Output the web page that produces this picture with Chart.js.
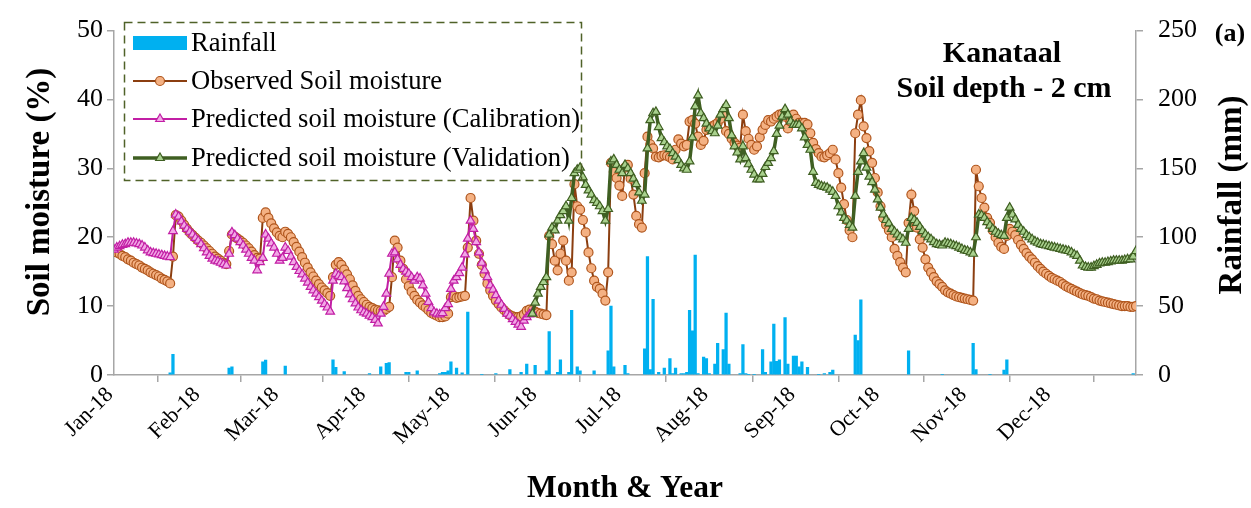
<!DOCTYPE html>
<html>
<head>
<meta charset="utf-8">
<title>Kanataal soil moisture, 2 cm depth</title>
<script src="https://cdn.jsdelivr.net/npm/chart.js@4.4.0/dist/chart.umd.min.js"></script>
<style>
  html, body { margin: 0; padding: 0; background: #fff; }
  #wrap { width: 1251px; height: 508px; }
</style>
</head>
<body>
<div id="wrap"><canvas id="moistureChart" width="1251" height="508"></canvas></div>
<script>
// x axis runs in day-of-year (0 = 1 Jan 2018)
const monthStartDays = [0, 31, 59, 90, 120, 151, 181, 212, 243, 273, 304, 334];
const monthLabels = ['Jan-18', 'Feb-18', 'Mar-18', 'Apr-18', 'May-18', 'Jun-18',
                     'Jul-18', 'Aug-18', 'Sep-18', 'Oct-18', 'Nov-18', 'Dec-18'];

// observed soil moisture (%), one reading per day, Jan..Dec
const observed = [
  18.1, 17.8, 17.6, 17.3, 17.1, 16.8, 16.6, 16.3, 16.1, 15.9, 15.6, 15.4, 15.2, 14.9, 14.7, 14.5, 14.3, 14.0, 13.8, 13.6, 13.3, 17.2, 23.2, 23.0, 22.4, 21.8, 21.2, 20.7, 20.3, 19.9, 19.5,
  19.2, 18.8, 18.4, 18.0, 17.6, 17.2, 16.9, 16.6, 16.3, 16.1, 18.0, 20.4, 20.1, 19.8, 19.5, 19.2, 18.8, 18.4, 17.9, 17.4, 17.0, 16.9, 22.8, 23.6, 22.8, 22.0, 21.3, 20.7,
  20.2, 20.0, 20.8, 20.5, 20.0, 19.3, 18.6, 17.9, 17.1, 16.3, 15.6, 14.9, 14.3, 13.7, 13.2, 12.7, 12.3, 11.9, 11.5, 14.2, 16.0, 16.4, 16.0, 15.3, 14.6, 13.9, 13.0, 12.2, 11.5, 11.0, 10.6,
  10.2, 9.9, 9.7, 9.5, 9.4, 9.3, 9.3, 9.6, 9.9, 14.2, 19.5, 18.5, 16.6, 15.4, 13.9, 12.9, 12.1, 11.5, 10.9, 10.5, 10.1, 9.8, 9.4, 9.0, 8.8, 8.6, 8.4, 8.4, 8.5, 8.9,
  11.3, 11.5, 11.2, 11.3, 11.4, 11.5, 18.5, 25.7, 22.4, 19.5, 17.6, 16.0, 14.7, 13.3, 12.3, 11.5, 10.8, 10.3, 9.8, 9.4, 9.0, 8.7, 8.5, 8.4, 8.4, 8.5, 8.8, 9.3, 9.5, 9.4, 9.2,
  9.0, 8.9, 8.8, 8.7, 20.2, 19.0, 16.6, 15.2, 17.6, 19.5, 16.6, 13.7, 14.9, 27.7, 24.5, 24.0, 22.5, 20.7, 17.8, 15.5, 13.7, 12.8, 12.5, 11.8, 10.8, 14.9, 30.8, 29.5, 28.6, 27.5,
  26.0, 30.1, 30.5, 28.5, 26.2, 23.1, 21.9, 21.4, 29.3, 34.6, 33.5, 32.9, 31.7, 31.6, 31.8, 31.9, 31.8, 31.6, 31.3, 32.7, 34.2, 33.6, 33.2, 33.4, 36.8, 37.0, 36.5, 34.6, 33.4, 34.0, 35.6,
  35.8, 36.1, 36.3, 36.6, 37.2, 38.0, 35.4, 35.0, 34.3, 33.7, 33.3, 33.0, 37.8, 35.4, 34.3, 33.4, 32.7, 33.2, 34.5, 35.6, 36.3, 37.0, 36.8, 37.2, 37.5, 37.8, 37.9, 37.5, 35.8, 36.8, 37.8,
  37.2, 36.6, 36.6, 36.6, 36.4, 35.1, 33.7, 32.8, 32.2, 31.7, 31.6, 31.9, 32.2, 32.7, 31.3, 29.3, 27.2, 24.8, 22.5, 21.0, 20.0, 35.1, 37.8, 39.9, 36.1, 34.4, 32.5, 30.8, 28.6, 26.5,
  24.5, 22.8, 21.8, 21.0, 20.0, 18.3, 17.3, 16.4, 15.6, 14.9, 22.1, 26.2, 23.8, 21.4, 19.7, 18.5, 16.8, 15.6, 14.9, 14.2, 13.6, 13.2, 12.8, 12.3, 12.0, 11.8, 11.6, 11.4, 11.3, 11.2, 11.1,
  11.0, 10.9, 10.8, 29.8, 27.4, 25.7, 24.3, 22.8, 22.1, 21.0, 20.0, 19.2, 18.6, 18.3, 20.2, 21.2, 20.8, 20.3, 19.6, 18.9, 18.3, 17.7, 17.2, 16.8, 16.3, 15.8, 15.4, 15.0, 14.7, 14.4,
  14.1, 13.9, 13.7, 13.5, 13.2, 12.9, 12.7, 12.5, 12.3, 12.1, 11.9, 11.7, 11.6, 11.5, 11.3, 11.1, 11.0, 10.8, 10.7, 10.6, 10.5, 10.4, 10.3, 10.2, 10.1, 10.0, 10.0, 10.0, 9.9, 9.9, 10.0
];

// model output, calibration period (from day 0)
const calibrationStart = 0;
const calibration = [
  18.2, 18.5, 18.7, 18.9, 19.0, 19.2, 19.2, 19.2, 19.1, 19.0, 18.8, 18.5, 18.1, 17.8, 17.7, 17.6, 17.5, 17.4, 17.3, 17.2, 17.1, 20.9, 23.3, 23.0, 22.3, 21.7, 21.2, 20.8, 20.4, 19.9, 19.5,
  19.0, 18.4, 17.8, 17.3, 16.9, 16.6, 16.5, 16.3, 16.1, 15.9, 17.6, 20.7, 20.3, 19.8, 19.3, 18.8, 18.2, 17.6, 17.0, 16.6, 15.2, 16.4, 17.0, 20.4, 19.8, 19.1, 18.5, 17.6,
  16.6, 17.0, 18.5, 18.0, 17.2, 16.4, 15.7, 15.1, 14.6, 14.0, 13.4, 12.8, 12.3, 11.8, 11.3, 10.8, 10.3, 9.8, 9.2, 13.7, 14.7, 14.4, 14.2, 13.6, 12.6, 11.7, 11.0, 10.4, 9.8, 9.4, 9.1,
  8.9, 8.6, 8.4, 8.0, 7.5, 8.9, 9.9, 11.8, 14.7, 17.6, 17.8, 16.8, 16.0, 15.4, 15.0, 14.7, 14.2, 13.7, 14.2, 14.0, 13.0, 11.8, 10.6, 9.7, 9.1, 8.9, 8.8, 9.0, 9.7, 10.3,
  12.5, 13.7, 14.2, 14.8, 15.6, 17.5, 19.8, 22.4, 21.2, 19.3, 17.8, 16.3, 15.2, 14.2, 13.0, 12.4, 11.6, 10.8, 10.2, 9.6, 8.9, 8.6, 8.1, 7.7, 7.3, 7.0, 7.9, 8.4, 8.8, 9.1
];

// model output, validation period (from day 149)
const validationStart = 149;
const validation = [
  8.9, 10.5, 11.8, 12.8, 13.5, 14.2, 20.4, 21.4, 21.0, 22.4, 23.2, 23.8, 24.5, 22.4, 25.7, 29.3, 29.8, 30.1, 28.7, 27.6, 26.8, 26.2, 25.4, 25.0, 24.5, 23.8, 22.4, 24.1, 31.0, 31.3, 30.5, 29.8,
  29.3, 30.5, 30.0, 29.3, 28.5, 27.7, 26.5, 25.3, 26.2, 32.9, 37.0, 38.0, 38.2, 36.0, 34.4, 33.8, 33.2, 32.8, 32.2, 31.7, 31.2, 30.5, 30.0, 29.8, 31.0, 34.5, 39.0, 40.6, 38.0, 37.3, 36.5,
  35.8, 35.4, 35.1, 36.2, 37.8, 38.6, 39.2, 37.3, 34.8, 33.2, 32.3, 31.3, 33.2, 31.5, 30.6, 29.8, 29.1, 28.4, 28.4, 29.2, 30.2, 30.8, 31.5, 32.5, 35.0, 36.2, 37.5, 38.6, 37.8, 36.8, 36.3,
  36.3, 36.3, 35.8, 34.5, 33.4, 32.7, 29.5, 27.9, 27.6, 27.4, 27.3, 27.2, 26.9, 26.6, 26.0, 24.5, 23.6, 22.8, 22.4, 21.8, 21.4, 26.0, 29.5, 31.0, 32.2, 30.1, 28.8, 28.0, 26.9, 25.5,
  24.3, 23.3, 22.5, 22.0, 21.2, 20.8, 20.4, 20.0, 19.7, 19.2, 21.2, 22.8, 22.5, 22.1, 21.5, 20.9, 20.4, 20.0, 19.7, 19.3, 19.0, 18.9, 18.8, 19.2, 19.1, 19.0, 18.8, 18.7, 18.5, 18.3, 18.1,
  18.0, 17.8, 17.6, 20.0, 23.3, 23.2, 22.8, 22.2, 21.7, 21.2, 20.8, 20.5, 20.3, 20.2, 22.8, 24.3, 23.3, 22.6, 21.8, 21.2, 20.8, 20.3, 20.0, 19.7, 19.4, 19.2, 19.0, 18.9, 18.8, 18.7,
  18.6, 18.5, 18.4, 18.3, 18.2, 18.1, 18.0, 17.8, 17.5, 17.3, 16.6, 15.9, 15.7, 15.6, 15.6, 15.8, 16.0, 16.2, 16.3, 16.3, 16.4, 16.5, 16.6, 16.6, 16.6, 16.6, 16.7, 16.8, 16.8, 17.2, 18.0
];

// daily rainfall (mm) on the days it rained
const rainDays = [20, 21, 41, 42, 53, 54, 61, 78, 79, 82, 91, 95, 97, 98, 104, 105, 108,
  116, 117, 118, 119, 120, 122, 124, 126, 131, 136, 141, 145, 147, 150, 154, 155, 158, 159,
  162, 163, 165, 166, 171, 176, 177, 178, 182, 183, 189, 190, 191, 192, 194, 196, 198, 199,
  200, 202, 203, 204, 205, 206, 207, 208, 210, 211, 212, 214, 215, 217, 218, 219, 223, 224,
  225, 226, 228, 231, 232, 234, 235, 236, 237, 239, 240, 242, 243, 244, 245, 247, 251, 253,
  255, 256, 264, 265, 266, 283, 295, 306, 307, 312, 317, 318, 363];
const rainMm = [1.5, 15, 5, 6, 9.6, 10.8, 6.5, 11, 5.5, 2.4, 1, 6, 8.5, 9, 2, 2, 3,
  1, 2, 2, 3, 9.6, 5, 1.5, 45.7, 0.5, 1, 4, 2, 8, 7, 3, 31.5, 2, 11,
  2, 47, 6, 3, 3, 17.5, 50, 6, 7, 1, 19, 86, 4, 55, 2, 5, 12, 1,
  5, 1, 1, 2, 47, 32, 87, 1, 13, 12, 1, 8, 23, 18.5, 45, 8, 1, 22,
  1, 0.5, 0.5, 18.5, 2, 9.6, 37, 10, 11, 41.6, 8, 13.7, 13.7, 6, 9.6, 5.5, 0.5, 1,
  2, 3.5, 29, 25, 54.6, 17.5, 0.5, 23, 4, 0.5, 3.5, 11, 1];

const serif = '"Liberation Serif", "Times New Roman", serif';
const axisGray = '#a6a6a6';
Chart.defaults.font.family = serif;
Chart.defaults.color = '#000';

const toPoints = (values, start) => values.map((v, i) => ({ x: start + i, y: v }));

function drawTriangle(ctx, x, y, r) {
  ctx.beginPath();
  ctx.moveTo(x, y - r);
  ctx.lineTo(x + 0.866 * r, y + 0.5 * r);
  ctx.lineTo(x - 0.866 * r, y + 0.5 * r);
  ctx.closePath();
  ctx.fill();
  ctx.stroke();
}

function drawVerticalTitle(ctx, text, x, y) {
  ctx.save();
  ctx.translate(x, y);
  ctx.rotate(-Math.PI / 2);
  ctx.font = 'bold 33px ' + serif;
  ctx.textAlign = 'center';
  ctx.textBaseline = 'middle';
  ctx.fillStyle = '#000';
  ctx.fillText(text, 0, 0);
  ctx.restore();
}

// boxed legend, station caption and both vertical axis titles
const annotations = {
  id: 'annotations',
  afterDraw(chart) {
    const ctx = chart.ctx;
    ctx.save();
    ctx.strokeStyle = '#4f6228';
    ctx.lineWidth = 1.5;
    ctx.setLineDash([8, 5]);
    ctx.strokeRect(124.5, 22.5, 457, 158);
    ctx.setLineDash([]);

    const rows = [43, 81, 119, 158];
    chart.data.datasets.forEach((ds, i) => {
      const y = rows[i];
      if (ds.type === 'bar') {
        ctx.fillStyle = ds.backgroundColor;
        ctx.fillRect(133, y - 7, 54, 14);
      } else {
        ctx.strokeStyle = ds.borderColor;
        ctx.lineWidth = ds.borderWidth;
        ctx.beginPath();
        ctx.moveTo(133, y);
        ctx.lineTo(187, y);
        ctx.stroke();
        ctx.fillStyle = ds.pointBackgroundColor;
        ctx.strokeStyle = ds.pointBorderColor;
        ctx.lineWidth = ds.pointBorderWidth;
        if (ds.pointStyle === 'circle') {
          ctx.beginPath();
          ctx.arc(160, y, ds.pointRadius, 0, Math.PI * 2);
          ctx.fill();
          ctx.stroke();
        } else {
          drawTriangle(ctx, 160, y, ds.pointRadius);
        }
      }
      ctx.fillStyle = '#000';
      ctx.font = '26.6px ' + serif;
      ctx.textAlign = 'left';
      ctx.textBaseline = 'middle';
      ctx.fillText(ds.label, 191, y + 1);
    });

    ctx.fillStyle = '#000';
    ctx.textAlign = 'center';
    ctx.textBaseline = 'alphabetic';
    ctx.font = 'bold 30px ' + serif;
    ctx.fillText('Kanataal', 1002, 62);
    ctx.fillText('Soil depth - 2 cm', 1004, 97);
    ctx.font = 'bold 26px ' + serif;
    ctx.fillText('(a)', 1230, 41);
    ctx.restore();

    drawVerticalTitle(ctx, 'Soil moisture (%)', 40, 192);
    drawVerticalTitle(ctx, 'Rainfall (mm)', 1232, 195);
  }
};

const ctx = document.getElementById('moistureChart').getContext('2d');
const moistureChart = new Chart(ctx, {
  type: 'line',
  data: {
    datasets: [{
      type: 'bar',
      label: 'Rainfall',
      data: rainDays.map((d, i) => ({ x: d, y: rainMm[i] })),
      yAxisID: 'y1',
      backgroundColor: '#00b0f0',
      barThickness: 2.6,
      order: 4
    }, {
      label: 'Observed Soil moisture',
      data: toPoints(observed, 0),
      borderColor: '#8b3e10',
      borderWidth: 2,
      pointStyle: 'circle',
      pointRadius: 4.5,
      pointBorderWidth: 1.2,
      pointBackgroundColor: '#f4b183',
      pointBorderColor: '#b0561d',
      tension: 0,
      order: 3
    }, {
      label: 'Predicted soil moisture (Calibration)',
      data: toPoints(calibration, calibrationStart),
      borderColor: '#c21fa5',
      borderWidth: 2,
      pointStyle: 'triangle',
      pointRadius: 5,
      pointBorderWidth: 1.2,
      pointBackgroundColor: '#f2a7e6',
      pointBorderColor: '#c21fa5',
      tension: 0,
      order: 2
    }, {
      label: 'Predicted soil moisture (Validation)',
      data: toPoints(validation, validationStart),
      borderColor: '#3f5f22',
      borderWidth: 3.5,
      pointStyle: 'triangle',
      pointRadius: 5,
      pointBorderWidth: 1.2,
      pointBackgroundColor: '#a9d18e',
      pointBorderColor: '#3f5f22',
      tension: 0,
      order: 1
    }]
  },
  options: {
    responsive: false,
    animation: false,
    layout: { padding: { top: 28, left: 0, right: 0, bottom: 0 } },
    plugins: { legend: { display: false }, tooltip: { enabled: false } },
    scales: {
      x: {
        type: 'linear',
        min: 0,
        max: 364,
        offset: false,
        afterBuildTicks: scale => { scale.ticks = monthStartDays.map(v => ({ value: v })); },
        afterFit: scale => { scale.height = 133; },
        grid: { drawOnChartArea: false, drawTicks: true, tickLength: 7, color: axisGray, lineWidth: 1.5 },
        border: { color: axisGray, width: 1.5 },
        ticks: {
          autoSkip: false,
          minRotation: 45,
          maxRotation: 45,
          padding: 0,
          labelOffset: -4,
          font: { size: 22 },
          callback: v => monthLabels[monthStartDays.indexOf(v)]
        },
        title: {
          display: true,
          text: 'Month & Year',
          font: { size: 31.5, weight: 'bold' },
          padding: { top: 0, bottom: 0 }
        }
      },
      y: {
        position: 'left',
        min: 0,
        max: 50,
        afterFit: scale => { scale.width = 114; },
        grid: { drawOnChartArea: false, tickLength: 7, color: axisGray, lineWidth: 1.5 },
        border: { color: axisGray, width: 1.5 },
        ticks: { stepSize: 10, padding: 4, font: { size: 26 } }
      },
      y1: {
        position: 'right',
        min: 0,
        max: 250,
        afterFit: scale => { scale.width = 115; },
        grid: { drawOnChartArea: false, tickLength: 7, color: axisGray, lineWidth: 1.5 },
        border: { color: axisGray, width: 1.5 },
        ticks: { stepSize: 50, padding: 15, font: { size: 26 } }
      }
    }
  },
  plugins: [annotations]
});
</script>
</body>
</html>
